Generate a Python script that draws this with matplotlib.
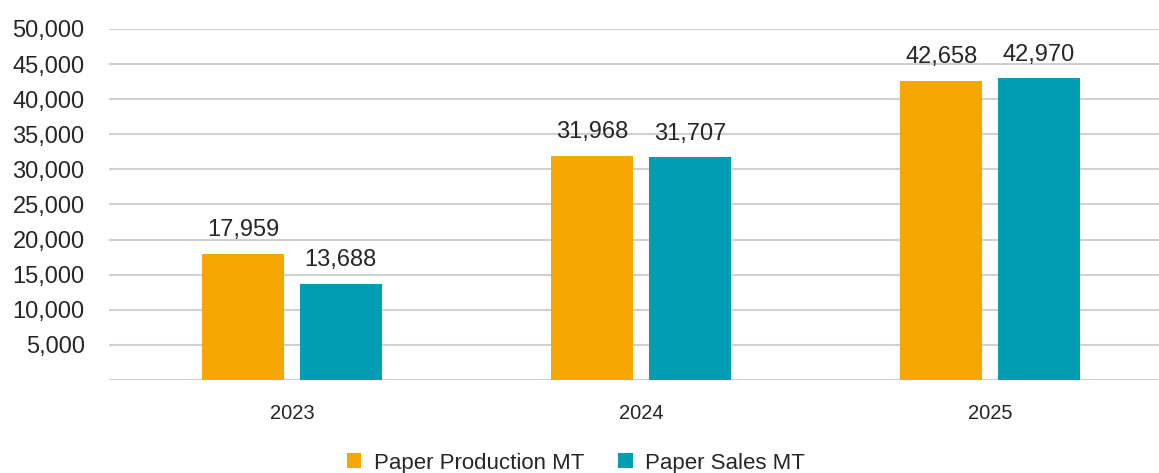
import numpy as np
import matplotlib
matplotlib.use('Agg')
from matplotlib import pyplot as plt
from matplotlib.ticker import FuncFormatter

plt.rcParams['font.family'] = ['Liberation Sans', 'DejaVu Sans']

# data
years = ['2023', '2024', '2025']
production = [17959, 31968, 42658]
sales = [13688, 31707, 42970]

orange = '#F5A600'
teal = '#009DB5'
text_col = '#262626'

fig = plt.figure(figsize=(11.59, 4.73), dpi=100)
ax = fig.add_axes([109 / 1159, 1 - 380 / 473, 1 - 109 / 1159, (380 - 29) / 473])

x = np.arange(len(years))
w = 0.235
off = 0.14

b1 = ax.bar(x - off, production, w, color=orange, label='Paper Production MT', zorder=3)
b2 = ax.bar(x + off, sales, w, color=teal, label='Paper Sales MT', zorder=3)

for bars in (b1, b2):
    for rect in bars:
        h = rect.get_height()
        ax.annotate(f'{h:,.0f}', (rect.get_x() + rect.get_width() / 2, h),
                    xytext=(0, 9), textcoords='offset points',
                    ha='center', va='bottom', fontsize=17, color=text_col)

ax.set_ylim(0, 50000)
ax.set_xlim(-0.524, 2.484)
ax.set_yticks(range(0, 50001, 5000))
ax.yaxis.set_major_formatter(FuncFormatter(lambda v, p: '' if v == 0 else f'{v:,.0f}'))
ax.set_xticks(x)
ax.set_xticklabels(years)

ax.tick_params(axis='y', length=0, pad=17.5, labelsize=17, labelcolor=text_col)
ax.tick_params(axis='x', length=0, pad=17, labelsize=14.5, labelcolor=text_col)

ax.grid(axis='y', color='#D0D0D0', linewidth=1.5, zorder=0)
ax.set_axisbelow(True)
for s in ax.spines.values():
    s.set_visible(False)

fig.legend(loc='center', bbox_to_anchor=(576 / 1159, 1 - 463 / 473), ncol=2,
           frameon=False, fontsize=16, handlelength=0.65, handleheight=0.65,
           handletextpad=0.55, columnspacing=1.55, labelcolor=text_col)

plt.savefig('out.png', dpi=100)
